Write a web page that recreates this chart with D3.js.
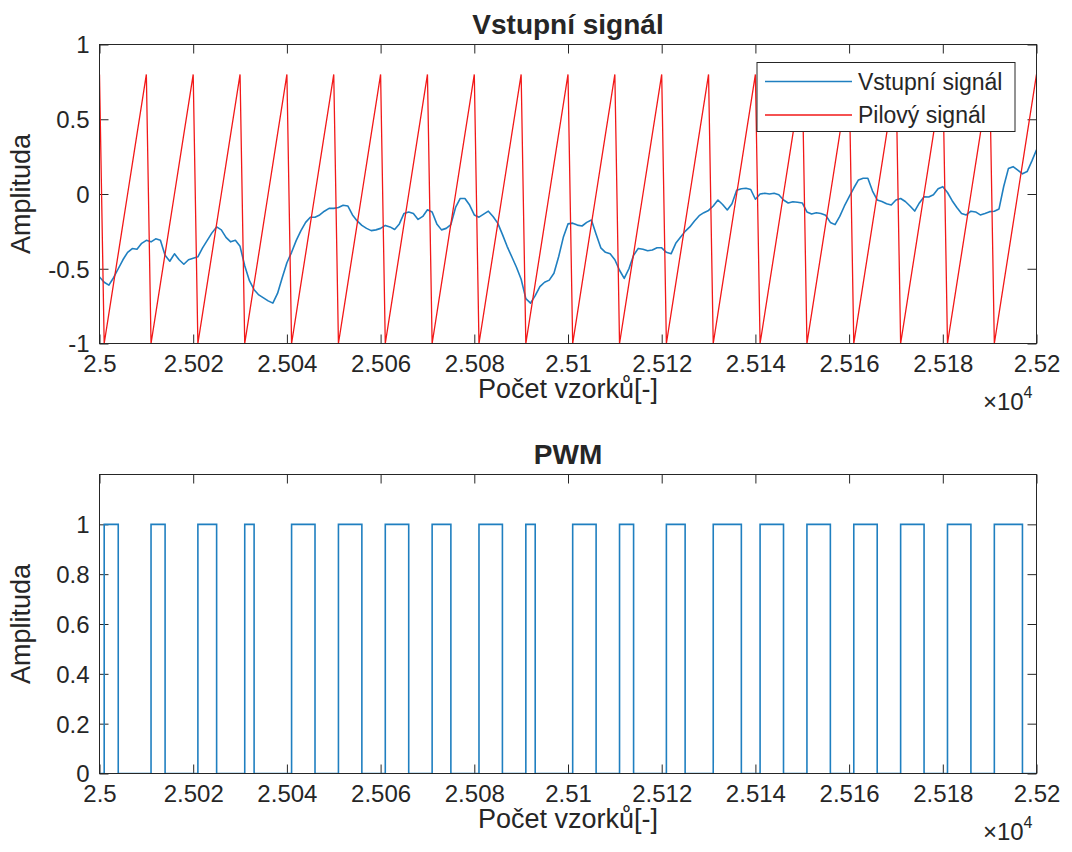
<!DOCTYPE html>
<html>
<head>
<meta charset="utf-8">
<script src="https://cdn.jsdelivr.net/npm/d3@7"></script>
<style>
  html, body { margin: 0; padding: 0; background: #fff; }
  svg { display: block; }
  text { font-family: "Liberation Sans", Arial, sans-serif; fill: #262626; }
</style>
</head>
<body>
<svg id="fig" width="1072" height="852"></svg>
<script>
// Sample window shown on both axes
const sampleStart = 25000;
const sampleEnd = 25200;
const samples = d3.range(sampleStart, sampleEnd + 1);

// Input signal (one value per sample, 25000 … 25200)
const inputSignal = [
  -0.555,
  -0.59, -0.61, -0.56, -0.50, -0.44, -0.39, -0.365, -0.37, -0.33, -0.31,
  -0.32, -0.30, -0.31, -0.41, -0.45, -0.40, -0.44, -0.47, -0.44, -0.43,
  -0.42, -0.36, -0.31, -0.26, -0.22, -0.24, -0.29, -0.32, -0.31, -0.35,
  -0.48, -0.58, -0.64, -0.675, -0.695, -0.715, -0.73, -0.665, -0.56, -0.46,
  -0.39, -0.31, -0.245, -0.19, -0.156, -0.156, -0.14, -0.115, -0.096, -0.096,
  -0.09, -0.075, -0.08, -0.14, -0.18, -0.21, -0.23, -0.245, -0.24, -0.23,
  -0.21, -0.22, -0.237, -0.20, -0.13, -0.12, -0.13, -0.17, -0.15, -0.105,
  -0.12, -0.20, -0.24, -0.23, -0.205, -0.09, -0.03, -0.03, -0.074, -0.14,
  -0.155, -0.135, -0.115, -0.15, -0.195, -0.27, -0.35, -0.42, -0.49, -0.57,
  -0.70, -0.73, -0.68, -0.62, -0.59, -0.576, -0.53, -0.42, -0.29, -0.20,
  -0.195, -0.208, -0.214, -0.19, -0.174, -0.27, -0.36, -0.39, -0.40, -0.44,
  -0.51, -0.565, -0.50, -0.41, -0.364, -0.37, -0.38, -0.375, -0.36, -0.36,
  -0.39, -0.40, -0.33, -0.29, -0.25, -0.22, -0.18, -0.145, -0.125, -0.11,
  -0.08, -0.04, -0.07, -0.107, -0.065, 0.025, 0.035, 0.038, 0.03, -0.035,
  0.0, 0.005, 0.0, 0.005, -0.005, -0.04, -0.06, -0.052, -0.055, -0.06,
  -0.12, -0.134, -0.125, -0.13, -0.142, -0.19, -0.205, -0.15, -0.08, -0.02,
  0.04, 0.094, 0.105, 0.105, 0.02, -0.04, -0.05, -0.065, -0.074, -0.04,
  -0.03, -0.05, -0.08, -0.114, -0.06, -0.018, -0.02, -0.005, 0.035, 0.049,
  0.01, -0.045, -0.09, -0.13, -0.14, -0.115, -0.12, -0.14, -0.13, -0.118,
  -0.115, -0.1, 0.05, 0.17, 0.183, 0.16, 0.135, 0.15, 0.22, 0.295
];

// Sawtooth carrier (period of 10 samples, -1 … 0.8)
const sawSignal = [
  0.8,
  -1, -0.8, -0.6, -0.4, -0.2, 0, 0.2, 0.4, 0.6, 0.8,
  -1, -0.8, -0.6, -0.4, -0.2, 0, 0.2, 0.4, 0.6, 0.8,
  -1, -0.8, -0.6, -0.4, -0.2, 0, 0.2, 0.4, 0.6, 0.8,
  -1, -0.8, -0.6, -0.4, -0.2, 0, 0.2, 0.4, 0.6, 0.8,
  -1, -0.8, -0.6, -0.4, -0.2, 0, 0.2, 0.4, 0.6, 0.8,
  -1, -0.8, -0.6, -0.4, -0.2, 0, 0.2, 0.4, 0.6, 0.8,
  -1, -0.8, -0.6, -0.4, -0.2, 0, 0.2, 0.4, 0.6, 0.8,
  -1, -0.8, -0.6, -0.4, -0.2, 0, 0.2, 0.4, 0.6, 0.8,
  -1, -0.8, -0.6, -0.4, -0.2, 0, 0.2, 0.4, 0.6, 0.8,
  -1, -0.8, -0.6, -0.4, -0.2, 0, 0.2, 0.4, 0.6, 0.8,
  -1, -0.8, -0.6, -0.4, -0.2, 0, 0.2, 0.4, 0.6, 0.8,
  -1, -0.8, -0.6, -0.4, -0.2, 0, 0.2, 0.4, 0.6, 0.8,
  -1, -0.8, -0.6, -0.4, -0.2, 0, 0.2, 0.4, 0.6, 0.8,
  -1, -0.8, -0.6, -0.4, -0.2, 0, 0.2, 0.4, 0.6, 0.8,
  -1, -0.8, -0.6, -0.4, -0.2, 0, 0.2, 0.4, 0.6, 0.8,
  -1, -0.8, -0.6, -0.4, -0.2, 0, 0.2, 0.4, 0.6, 0.8,
  -1, -0.8, -0.6, -0.4, -0.2, 0, 0.2, 0.4, 0.6, 0.8,
  -1, -0.8, -0.6, -0.4, -0.2, 0, 0.2, 0.4, 0.6, 0.8,
  -1, -0.8, -0.6, -0.4, -0.2, 0, 0.2, 0.4, 0.6, 0.8,
  -1, -0.8, -0.6, -0.4, -0.2, 0, 0.2, 0.4, 0.6, 0.8
];

// PWM output (1 while the input is above the carrier)
const pwmSignal = [
  0,
  1, 1, 1, 0, 0, 0, 0, 0, 0, 0,
  1, 1, 1, 0, 0, 0, 0, 0, 0, 0,
  1, 1, 1, 1, 0, 0, 0, 0, 0, 0,
  1, 1, 0, 0, 0, 0, 0, 0, 0, 0,
  1, 1, 1, 1, 1, 0, 0, 0, 0, 0,
  1, 1, 1, 1, 1, 0, 0, 0, 0, 0,
  1, 1, 1, 1, 1, 0, 0, 0, 0, 0,
  1, 1, 1, 1, 0, 0, 0, 0, 0, 0,
  1, 1, 1, 1, 1, 0, 0, 0, 0, 0,
  1, 1, 0, 0, 0, 0, 0, 0, 0, 0,
  1, 1, 1, 1, 1, 0, 0, 0, 0, 0,
  1, 1, 1, 0, 0, 0, 0, 0, 0, 0,
  1, 1, 1, 1, 0, 0, 0, 0, 0, 0,
  1, 1, 1, 1, 1, 1, 0, 0, 0, 0,
  1, 1, 1, 1, 1, 0, 0, 0, 0, 0,
  1, 1, 1, 1, 1, 0, 0, 0, 0, 0,
  1, 1, 1, 1, 1, 0, 0, 0, 0, 0,
  1, 1, 1, 1, 1, 0, 0, 0, 0, 0,
  1, 1, 1, 1, 1, 0, 0, 0, 0, 0,
  1, 1, 1, 1, 1, 1, 0, 0, 0, 0
];

// Axis ticks and labels
const xTicks = [25000, 25020, 25040, 25060, 25080, 25100, 25120, 25140, 25160, 25180, 25200];
const xTickLabels = ["2.5", "2.502", "2.504", "2.506", "2.508", "2.51", "2.512", "2.514", "2.516", "2.518", "2.52"];
const topYTicks = [-1, -0.5, 0, 0.5, 1];
const topYTickLabels = ["-1", "-0.5", "0", "0.5", "1"];
const pwmYTicks = [0, 0.2, 0.4, 0.6, 0.8, 1];
const pwmYTickLabels = ["0", "0.2", "0.4", "0.6", "0.8", "1"];

const seriesNames = ["Vstupní signál", "Pilový signál"];
const titles = ["Vstupní signál", "PWM"];
const xLabel = "Počet vzorků[-]";
const yLabel = "Amplituda";

// ---- drawing ----
const svg = d3.select("#fig");
const AX = "#262626";
const BLUE = "#1f7fc0";
const RED = "#f21818";

const left = 99.5, right = 1036.5;
const panels = [
  { top: 44.5, bottom: 343.5, yDomain: [-1, 1], ticks: topYTicks, labels: topYTickLabels },
  { top: 474.5, bottom: 773.5, yDomain: [0, 1.2], ticks: pwmYTicks, labels: pwmYTickLabels }
];

const x = d3.scaleLinear().domain([sampleStart, sampleEnd]).range([left, right]);
const xFmt = d => xTickLabels[xTicks.indexOf(d)];

panels.forEach((p, i) => {
  p.y = d3.scaleLinear().domain(p.yDomain).range([p.bottom, p.top]);
  const g = svg.append("g");

  // clip to plot box
  g.append("clipPath").attr("id", "clip" + i)
    .append("rect").attr("x", left).attr("y", p.top)
    .attr("width", right - left).attr("height", p.bottom - p.top);

  const yFmt = d => p.labels[p.ticks.indexOf(d)];
  const tickLen = 9;

  // bottom axis (labels) + top axis (inward ticks only)
  const xb = g.append("g").attr("transform", `translate(0,${p.bottom})`)
    .call(d3.axisBottom(x).tickValues(xTicks).tickFormat(xFmt).tickSize(-tickLen).tickPadding(11));
  const xt = g.append("g").attr("transform", `translate(0,${p.top})`)
    .call(d3.axisTop(x).tickValues(xTicks).tickFormat("").tickSize(-tickLen));
  const yl = g.append("g").attr("transform", `translate(${left},0)`)
    .call(d3.axisLeft(p.y).tickValues(p.ticks).tickFormat(yFmt).tickSize(-tickLen).tickPadding(10));
  const yr = g.append("g").attr("transform", `translate(${right},0)`)
    .call(d3.axisRight(p.y).tickValues(p.ticks).tickFormat("").tickSize(-tickLen));

  [xb, xt, yl, yr].forEach(a => {
    a.select(".domain").remove();
    a.selectAll("line").attr("stroke", AX).attr("stroke-width", 1);
    a.selectAll("text").attr("fill", AX).style("font-size", "24px")
      .style("font-family", '"Liberation Sans", Arial, sans-serif');
  });
  xb.selectAll("text").attr("dy", "0.71em");
  yl.selectAll("text").attr("dy", "0.35em");

  // data
  const plot = g.append("g").attr("clip-path", `url(#clip${i})`);
  if (i === 0) {
    const line = d3.line().x((d, k) => x(samples[k])).y(d => p.y(d));
    plot.append("path").datum(inputSignal).attr("d", line)
      .attr("fill", "none").attr("stroke", BLUE).attr("stroke-width", 1.6)
      .attr("stroke-linejoin", "round");
    plot.append("path").datum(sawSignal).attr("d", line)
      .attr("fill", "none").attr("stroke", RED).attr("stroke-width", 1.3)
      .attr("stroke-linejoin", "miter");
  } else {
    const step = d3.line().curve(d3.curveStepAfter)
      .x((d, k) => x(samples[k])).y(d => p.y(d));
    plot.append("path").datum(pwmSignal).attr("d", step)
      .attr("fill", "none").attr("stroke", BLUE).attr("stroke-width", 1.6);
  }

  // box
  g.append("rect").attr("x", left).attr("y", p.top)
    .attr("width", right - left).attr("height", p.bottom - p.top)
    .attr("fill", "none").attr("stroke", AX).attr("stroke-width", 1);

  // title
  g.append("text").attr("x", (left + right) / 2).attr("y", p.top - 10.5)
    .attr("text-anchor", "middle").style("font-size", "28px").style("font-weight", "bold")
    .attr("fill", "#000").text(titles[i]);

  // x label
  g.append("text").attr("x", (left + right) / 2).attr("y", p.bottom + 54.5)
    .attr("text-anchor", "middle").style("font-size", "27px").text(xLabel);

  // exponent
  const ex = g.append("text").attr("x", right - 4).attr("y", p.bottom + 66)
    .attr("text-anchor", "end").style("font-size", "24px");
  ex.append("tspan").text("×10");
  ex.append("tspan").attr("dy", -12).style("font-size", "16px").text("4");

  // y label
  g.append("text")
    .attr("transform", `translate(30,${(p.top + p.bottom) / 2}) rotate(-90)`)
    .attr("text-anchor", "middle").style("font-size", "27px").text(yLabel);
});

// legend
const lg = svg.append("g");
const lgX = 757, lgY = 62.5, lgW = 258, lgH = 69;
lg.append("rect").attr("x", lgX).attr("y", lgY).attr("width", lgW).attr("height", lgH)
  .attr("fill", "#fff").attr("stroke", AX).attr("stroke-width", 1);
[BLUE, RED].forEach((c, k) => {
  const cy = lgY + 19 + k * 33.5;
  lg.append("line").attr("x1", lgX + 8).attr("x2", lgX + 95).attr("y1", cy).attr("y2", cy)
    .attr("stroke", c).attr("stroke-width", k === 0 ? 1.5 : 1.3);
  lg.append("text").attr("x", lgX + 101).attr("y", cy).attr("dy", "0.35em")
    .style("font-size", "23px").text(seriesNames[k]);
});
</script>
</body>
</html>
